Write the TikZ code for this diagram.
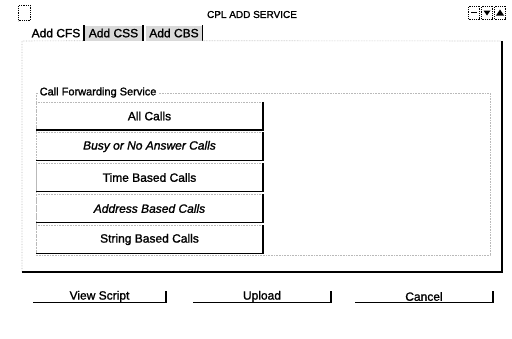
\documentclass[tikz,border=0pt]{standalone}
\usepackage{fontspec}
\setmainfont{Liberation Sans}[
  BoldFont={Liberation Sans}, BoldFeatures={FakeBold=1.3},
  BoldItalicFont={Liberation Sans Italic}, BoldItalicFeatures={FakeBold=1.3}]
\begin{document}
\begin{tikzpicture}[x=1pt,y=-1pt,
  faint/.style={draw=gray!55, densely dotted, line width=0.6pt},
  heavy/.style={draw=black, line width=1.5pt},
  lbl/.style={inner sep=0pt, font=\fontsize{12}{14}\selectfont\bfseries},
  listbtn/.style={lbl, minimum width=227pt, minimum height=28pt},
  actbtn/.style={lbl, minimum width=133pt, minimum height=12pt},
  tabon/.style={lbl, minimum height=15pt, fill=gray!30},
  winbtn/.style={draw=black, densely dotted, line width=0.8pt, minimum width=11pt, minimum height=13pt, inner sep=0pt}
]
\useasboundingbox (0,0) rectangle (512,338);

% title bar
\node[winbtn, minimum width=12pt, minimum height=15pt] (icon) at (24.5,13) {};
\node[inner sep=0pt, font=\fontsize{10}{12}\selectfont\bfseries] (title) at (252,14.5) {CPL ADD SERVICE};
\node[winbtn] (wmin) at (474,12.5) {};
\node[winbtn] (wdown) at (487,12.5) {};
\node[winbtn] (wup) at (500,12.5) {};
\draw[line width=1.2pt] ([xshift=-3pt]wmin.center) -- ([xshift=3pt]wmin.center);
\fill ([xshift=-3.5pt,yshift=2pt]wdown.center) -- ([xshift=3.5pt,yshift=2pt]wdown.center) -- ([yshift=-3pt]wdown.center) -- cycle;
\fill ([xshift=-4pt,yshift=-3pt]wup.center) -- ([xshift=4pt,yshift=-3pt]wup.center) -- ([yshift=3pt]wup.center) -- cycle;

% tabs
\node[lbl] (tcfs) at (56,33) {Add CFS};
\node[tabon, minimum width=59pt] (tcss) at (113.5,33) {Add CSS};
\node[tabon, minimum width=57pt] (tcbs) at (174,33) {Add CBS};
\draw[heavy] (tcss.north west) -- (tcss.south west);
\draw[heavy] (tcss.north east) -- (tcss.south east);
\draw[heavy] (tcbs.north east) -- (tcbs.south east);

% main panel
\coordinate (ptl) at (22,41);
\coordinate (ptr) at (502,41);
\coordinate (pbr) at (502,272);
\coordinate (pbl) at (22,272);
\draw[faint] (pbl) -- (ptl) -- (tcss.south west);
\draw[faint] (tcbs.south east) -- (ptr);
\draw[heavy] (ptr) -- (pbr) -- (pbl);

% group box
\coordinate (gtl) at (36,93);
\coordinate (gtr) at (490,93);
\coordinate (gbr) at (490,255);
\coordinate (gbl) at (36,255);
\draw[faint] (gtl) -- (gbl) -- (gbr) -- (gtr) -- (gtl);
\node[inner sep=1.5pt, fill=white, anchor=west, font=\fontsize{11}{13}\selectfont\bfseries] (glabel) at (38,92.5) {Call Forwarding Service};

% list buttons
\node[listbtn] (b1) at (149.5,116) {All Calls};
\node[listbtn] (b2) at (149.5,146.5) {\itshape Busy or No Answer Calls};
\node[listbtn] (b3) at (149.5,177.5) {Time Based Calls};
\node[listbtn] (b4) at (149.5,208.5) {\itshape Address Based Calls};
\node[listbtn] (b5) at (149.5,239.5) {String Based Calls};
\foreach \b in {b1,b2,b3,b4,b5}{
  \draw[faint] (\b.south west) -- (\b.north west) -- (\b.north east);
  \draw[heavy] (\b.north east) -- (\b.south east) -- (\b.south west);
}

% action buttons
\node[actbtn] (vs) at (99.5,296.5) {View Script};
\node[actbtn, minimum width=138pt] (up) at (262,296.5) {Upload};
\node[actbtn, minimum width=138pt] (cn) at (424,296.5) {Cancel};
\foreach \b in {vs,up,cn}{
  \draw[heavy] ([yshift=-1pt]\b.north east) -- (\b.south east) -- (\b.south west);
}
\end{tikzpicture}
\end{document}
